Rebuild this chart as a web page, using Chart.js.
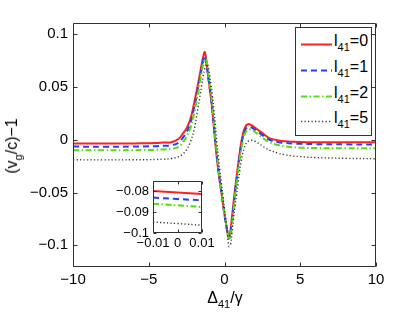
<!DOCTYPE html>
<html>
<head>
<meta charset="utf-8">
<script src="https://cdn.jsdelivr.net/npm/chart.js@4"></script>
<style>
  body { margin: 0; background: #fff; font-family: "Liberation Sans", Arial, sans-serif; }
  #wrap { position: relative; width: 415px; height: 312px; overflow: hidden; }
  #main { position: absolute; left: 0; top: 0; }
  #inset { position: absolute; left: 95px; top: 175px; }
  #legend { position: absolute; left: 295px; top: 27px; width: 75px; height: 107px; border: 1px solid #333; background: #fff; }
  .item { position: absolute; left: 0; width: 75px; height: 26px; }
  .item svg { position: absolute; left: 5px; }
  .item span { position: absolute; left: 38px; font-size: 16px; color: #000; white-space: nowrap; }
  sub { font-size: 11px; vertical-align: baseline; position: relative; top: 5px; line-height: 0; }
  #xtitle { position: absolute; left: 225px; top: 289px; transform: translateX(-50%); font-size: 16px; color: #000; white-space: nowrap; }
  #ytitle { position: absolute; left: 12px; top: 146px; width: 0; height: 0; }
  #ytitle span { position: absolute; transform: translate(-50%, -50%) rotate(-90deg); font-size: 16px; color: #000; white-space: nowrap; }
</style>
</head>
<body>
<div id="wrap">
  <canvas id="main" width="415" height="312"></canvas>
  <canvas id="inset" width="130" height="80"></canvas>
  <div id="legend"></div>
  <div id="xtitle">Δ<sub>41</sub>/γ</div>
  <div id="ytitle"><span>(v<sub>g</sub>/c)−1</span></div>
</div>
<script>
// detuning values (Δ41/γ) shared by all curves
const detuning = [-10, -8, -6, -5, -4.5, -4, -3.5, -3, -2.75, -2.5, -2.25, -2, -1.8, -1.6, -1.5, -1.4, -1.3, -1.2, -1.1, -1.0,
    -0.9, -0.8, -0.7, -0.6, -0.5, -0.4, -0.3, -0.2, -0.1, 0, 0.1, 0.2, 0.3, 0.4, 0.5, 0.6, 0.7, 0.8, 0.9, 1.0,
    1.1, 1.2, 1.3, 1.4, 1.5, 1.6, 1.7, 1.8, 1.9, 2.0, 2.25, 2.5, 2.75, 3, 3.5, 4, 4.5, 5, 6, 8, 10];

// (vg/c)-1 for each l41
const l41_0 = [-0.0035, -0.0036, -0.0035, -0.0033, -0.0031, -0.0027, -0.0024, 0.0012, 0.0058, 0.011, 0.0195, 0.035, 0.049, 0.064, 0.072, 0.079, 0.083, 0.0745, 0.0625, 0.0515,
    0.0402, 0.027, 0.0113, -0.0041, -0.0182, -0.030, -0.0404, -0.0506, -0.0612, -0.0712, -0.0795, -0.0875, -0.0925, -0.0855, -0.0725, -0.0590, -0.0465, -0.0353, -0.0237, -0.0127,
    -0.0030, 0.0042, 0.0095, 0.0128, 0.0143, 0.0148, 0.0143, 0.0136, 0.0126, 0.0115, 0.0089, 0.0063, 0.0035, 0.0013, -0.0006, -0.0015, -0.0020, -0.0022, -0.0024, -0.0025, -0.0025];
const l41_1 = [-0.0065, -0.0066, -0.0065, -0.0063, -0.0061, -0.0058, -0.0053, -0.0025, 0.0018, 0.0072, 0.0155, 0.0305, 0.0445, 0.0600, 0.0680, 0.0752, 0.0795, 0.0730, 0.0620, 0.0515,
    0.0405, 0.0280, 0.0125, -0.0028, -0.0168, -0.0290, -0.0396, -0.0500, -0.0606, -0.0712, -0.0798, -0.0882, -0.0935, -0.0875, -0.0750, -0.0615, -0.0490, -0.0378, -0.0262, -0.0152,
    -0.0054, 0.0017, 0.0070, 0.0103, 0.0119, 0.0125, 0.0122, 0.0115, 0.0106, 0.0096, 0.0070, 0.0044, 0.0018, -0.0003, -0.0022, -0.0031, -0.0036, -0.0039, -0.0042, -0.0044, -0.0045];
const l41_2 = [-0.0099, -0.0100, -0.0099, -0.0097, -0.0095, -0.0092, -0.0087, -0.0065, -0.0025, 0.0030, 0.0110, 0.0250, 0.0395, 0.0555, 0.0640, 0.0715, 0.0762, 0.0760, 0.0665, 0.0560,
    0.0450, 0.0325, 0.0165, 0.0008, -0.0138, -0.0265, -0.0375, -0.0480, -0.0590, -0.0700, -0.0795, -0.0888, -0.0945, -0.0915, -0.0800, -0.0660, -0.0530, -0.0418, -0.0300, -0.0192,
    -0.0095, -0.0022, 0.0036, 0.0072, 0.0090, 0.0098, 0.0098, 0.0093, 0.0085, 0.0075, 0.0047, 0.0020, -0.0007, -0.0027, -0.0050, -0.0063, -0.0071, -0.0075, -0.0079, -0.0081, -0.0082];
const l41_5 = [-0.0190, -0.0191, -0.0190, -0.0189, -0.0187, -0.0184, -0.0178, -0.0160, -0.0135, -0.0095, -0.0020, 0.0095, 0.0260, 0.0430, 0.0520, 0.0605, 0.0675, 0.0715, 0.0705, 0.0630,
    0.0525, 0.0420, 0.0285, 0.0130, -0.0030, -0.0170, -0.0300, -0.0415, -0.0535, -0.0655, -0.0775, -0.0905, -0.1010, -0.0990, -0.0875, -0.0745, -0.0630, -0.0520, -0.0410, -0.0300,
    -0.0205, -0.0130, -0.0078, -0.0042, -0.0022, -0.0011, -0.0006, -0.0005, -0.0008, -0.0014, -0.0035, -0.0060, -0.0082, -0.0100, -0.0126, -0.0142, -0.0153, -0.0160, -0.0169, -0.0176, -0.0180];

// zoom around Δ41 = 0
const insetDetuning = [-0.01, 0, 0.01];
const inset_0 = [-0.0800, -0.0807, -0.0814];
const inset_1 = [-0.0831, -0.0838, -0.0844];
const inset_2 = [-0.0860, -0.0868, -0.0876];
const inset_5 = [-0.0948, -0.0955, -0.0963];

const lLabels = ['0', '1', '2', '5'];
const xTicks = [-10, -5, 0, 5, 10];
const yTicks = [-0.1, -0.05, 0, 0.05, 0.1];
const insetXTicks = [-0.01, 0, 0.01];
const insetYTicks = [-0.1, -0.09, -0.08];

// line styles (red solid, blue dashed, green dash-dot, black dotted)
const styles = [
    { color: '#ff1f1f', dash: [], width: 2 },
    { color: '#2040ff', dash: [6, 4], width: 2 },
    { color: '#55dd11', dash: [6, 2.5, 1.5, 2.5], width: 2 },
    { color: '#333333', dash: [1.2, 2.3], width: 1.4 }
];

const fmt = v => (v < 0 ? '\u2212' : '') + Math.abs(v);
const FONT = '"Liberation Sans", Arial, sans-serif';

// MATLAB-like box with inward ticks on all four sides
const frameTicks = {
    id: 'frameTicks',
    afterDraw(chart, args, opts) {
        const { ctx, chartArea: a, scales: { x, y } } = chart;
        const len = opts.len || 4;
        const L = Math.round(a.left) + 0.5, R = Math.round(a.right) - 0.5;
        const T = Math.round(a.top) + 0.5, B = Math.round(a.bottom) - 0.5;
        ctx.save();
        ctx.strokeStyle = '#303030';
        ctx.lineWidth = 1;
        ctx.setLineDash([]);
        ctx.beginPath();
        ctx.rect(L, T, R - L, B - T);
        x.ticks.forEach(t => {
            const px = Math.round(x.getPixelForValue(t.value)) + 0.5;
            ctx.moveTo(px, B); ctx.lineTo(px, B - len);
            ctx.moveTo(px, T); ctx.lineTo(px, T + len);
        });
        y.ticks.forEach(t => {
            const py = Math.round(y.getPixelForValue(t.value)) + 0.5;
            ctx.moveTo(L, py); ctx.lineTo(L + len, py);
            ctx.moveTo(R, py); ctx.lineTo(R - len, py);
        });
        ctx.stroke();
        ctx.restore();
    }
};

function makeDatasets(xs, series) {
    // draw l41=5 last so it sits on top, like the original plot order
    return series.map((ys, i) => ({
        label: 'l41=' + lLabels[i],
        data: xs.map((x, k) => ({ x: x, y: ys[k] })),
        borderColor: styles[i].color,
        borderDash: styles[i].dash,
        borderWidth: styles[i].width,
        pointRadius: 0,
        fill: false,
        tension: 0.4,
        order: series.length - i
    }));
}

function scaleOpts(min, max, ticks, fontSize, pad, fixed, isX) {
    return {
        type: 'linear',
        min: min,
        max: max,
        grid: { display: false, drawTicks: false },
        border: { display: false },
        afterBuildTicks: s => { s.ticks = ticks.map(v => ({ value: v })); },
        afterFit: s => {
            if (isX) { s.height = fixed; s.paddingLeft = 0; s.paddingRight = 0; }
            else { s.width = fixed; s.paddingTop = 0; s.paddingBottom = 0; }
        },
        ticks: {
            autoSkip: false,
            maxRotation: 0,
            padding: pad,
            color: '#000',
            font: { family: FONT, size: fontSize },
            callback: v => fmt(v)
        }
    };
}

new Chart(document.getElementById('main'), {
    type: 'line',
    data: { datasets: makeDatasets(detuning, [l41_0, l41_1, l41_2, l41_5]) },
    options: {
        responsive: false,
        animation: false,
        layout: { padding: { left: 0, top: 23, right: 39, bottom: 0 } },
        plugins: { legend: { display: false }, tooltip: { enabled: false }, frameTicks: { len: 4 } },
        scales: {
            x: scaleOpts(-10, 10, xTicks, 15, 4, 45, true),
            y: scaleOpts(-0.1205, 0.1105, yTicks, 15, 5, 73, false)
        }
    },
    plugins: [frameTicks]
});

new Chart(document.getElementById('inset'), {
    type: 'line',
    data: { datasets: makeDatasets(insetDetuning, [inset_0, inset_1, inset_2, inset_5]) },
    options: {
        responsive: false,
        animation: false,
        layout: { padding: { left: 0, top: 6, right: 23, bottom: 0 } },
        plugins: { legend: { display: false }, tooltip: { enabled: false }, frameTicks: { len: 3 } },
        scales: {
            x: scaleOpts(-0.01, 0.01, insetXTicks, 13, 3, 22, true),
            y: scaleOpts(-0.1, -0.0752, insetYTicks, 13, 4, 58, false)
        }
    },
    plugins: [frameTicks]
});

// legend with subscripts
const legend = document.getElementById('legend');
lLabels.forEach((lab, i) => {
    const st = styles[i];
    const item = document.createElement('div');
    item.className = 'item';
    item.style.top = (3 + i * 25.8) + 'px';
    item.innerHTML =
        `<svg width="31" height="26" style="top:0"><line x1="0" y1="13.5" x2="31" y2="13.5" stroke="${st.color}" ` +
        `stroke-width="${st.width}" stroke-dasharray="${st.dash.length ? st.dash.join(' ') : 'none'}"/></svg>` +
        `<span style="top:1px">l<sub>41</sub>=${lab}</span>`;
    legend.appendChild(item);
});
</script>
</body>
</html>
